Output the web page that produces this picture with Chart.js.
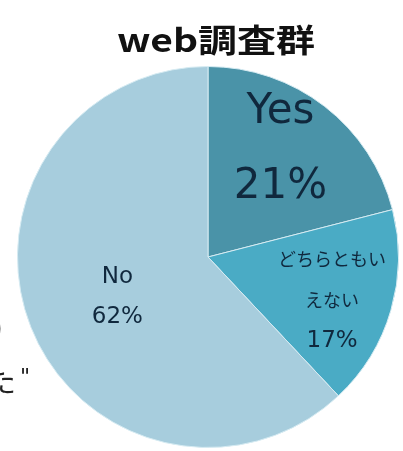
<!DOCTYPE html>
<html>
<head>
<meta charset="utf-8">
<script src="https://cdn.jsdelivr.net/npm/chart.js@4"></script>
<style>
  body { margin: 0; background: #fff; }
  #wrap { position: relative; width: 403px; height: 451px; }
</style>
</head>
<body>
<div id="wrap"><canvas id="pieChart"></canvas></div>
<script>
// Data
const chartTitle = 'web調査群';
const categories = ['Yes', 'どちらともいえない', 'No'];
const values = [21, 17, 62];
const labelLines = [['Yes', '21%'], ['どちらともい', 'えない', '17%'], ['No', '62%']];
const sliceColors = ['#4a93a8', '#4aabc5', '#a7cddd'];

// Label placement inside each slice (fraction of slice angle, fraction of radius)
const labelStyle = [
    { at: 0.45, r: 0.68, step: 75, fonts: ['42px "DejaVu Sans"', '42px "DejaVu Sans"'] },
    { at: 0.55, r: 0.69, step: 41, fonts: ['18px "Noto Sans CJK JP"', '18px "Noto Sans CJK JP"', '23px "DejaVu Sans"'] },
    { at: 0.49, r: 0.52, step: 40, fonts: ['23px "DejaVu Sans"', '23px "DejaVu Sans"'] }
];

// Draws title, slice labels and the clipped text at the left edge
const textPlugin = {
    id: 'textPlugin',
    afterDatasetsDraw(chart) {
        const ctx = chart.ctx;
        const arcs = chart.getDatasetMeta(0).data;
        ctx.save();
        ctx.fillStyle = '#10283d';
        ctx.textAlign = 'center';
        ctx.textBaseline = 'middle';
        arcs.forEach((arc, i) => {
            const st = labelStyle[i];
            const a = arc.startAngle + (arc.endAngle - arc.startAngle) * st.at;
            const cx = arc.x + Math.cos(a) * arc.outerRadius * st.r;
            const cy = arc.y + Math.sin(a) * arc.outerRadius * st.r;
            const lines = labelLines[i];
            lines.forEach((txt, j) => {
                ctx.font = st.fonts[j];
                ctx.fillText(txt, cx, cy + (j - (lines.length - 1) / 2) * st.step);
            });
        });
        ctx.restore();

        // title
        ctx.save();
        ctx.fillStyle = '#111';
        ctx.font = 'bold 32px "Noto Sans CJK JP"';
        ctx.textBaseline = 'alphabetic';
        const w = ctx.measureText(chartTitle).width;
        ctx.translate(117, 52);
        ctx.scale(198 / w, 1);
        ctx.fillText(chartTitle, 0, 0);
        ctx.restore();

        // cut-off text from the neighbouring panel
        ctx.save();
        ctx.fillStyle = '#222';
        ctx.font = '30px "Noto Sans CJK JP"';
        ctx.textBaseline = 'alphabetic';
        ctx.fillText(')', -7, 338);
        ctx.fillText('た', -14, 392);
        ctx.font = 'italic 22px "DejaVu Sans"';
        ctx.fillText('"', 20, 384);
        ctx.restore();
    }
};

function initChart() {
    const ctx = document.getElementById('pieChart').getContext('2d');
    new Chart(ctx, {
        type: 'pie',
        data: {
            labels: categories,
            datasets: [{
                data: values,
                backgroundColor: sliceColors,
                borderColor: '#d6ebf2',
                borderWidth: 1
            }]
        },
        options: {
            responsive: true,
            maintainAspectRatio: false,
            animation: false,
            layout: { padding: { top: 66, left: 16, right: 3, bottom: 3 } },
            plugins: {
                legend: { display: false },
                title: { display: false },
                tooltip: { enabled: false }
            }
        },
        plugins: [textPlugin]
    });
}

document.addEventListener('DOMContentLoaded', initChart);
</script>
</body>
</html>
